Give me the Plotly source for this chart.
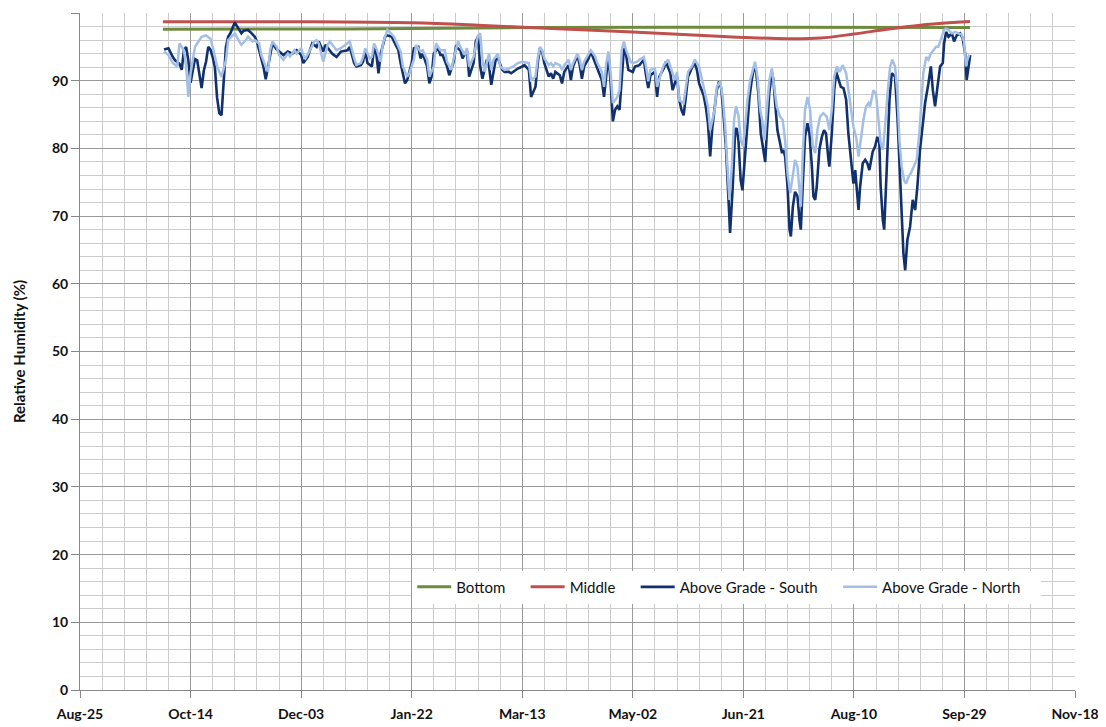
import pandas as pd
import plotly.graph_objects as go

START = pd.Timestamp("2008-08-25")

# ---- Above Grade - South (day offset from Aug-25, RH %) ----
south_day = [38, 40, 42, 43, 45, 46, 47, 48, 49, 50, 51, 52, 53, 54, 55, 56, 57, 58, 59, 60, 61, 62, 63, 64, 65, 66, 67, 68, 70, 71, 73, 74, 76, 77, 79, 80, 82, 83, 84, 86, 87, 89, 92, 94, 96, 98, 100, 101, 103, 105, 107, 108, 110, 111, 113, 114, 116, 118, 121,
             122, 124, 125, 127, 128, 129, 130, 132, 133, 134, 135, 136, 138, 139, 141, 142, 144, 145, 147, 148, 150, 151, 153, 154, 155, 157, 158, 159, 160, 162, 163, 164, 166, 167, 169, 170, 172, 173, 175, 176, 178, 179, 180, 181, 182, 184, 185, 186, 188, 189, 191, 192, 194, 195, 197, 198, 200, 201, 203, 204,
             206, 207, 208, 209, 210, 212, 213, 214, 215, 217, 218, 219, 221, 222, 223, 225, 226, 227, 228, 230, 231, 233, 234, 236, 237, 238, 239, 240, 241, 242, 243, 244, 245, 246, 247, 248, 250, 251, 253, 255, 256, 257, 258, 260, 261, 262, 264, 265, 267, 268, 270, 271, 272, 273, 274, 275, 277, 278, 279, 280, 282, 283, 284, 285, 286, 288, 289, 290,
             291.0, 292.2, 293.3, 294.0, 295.2, 296.3, 297.0, 297.8, 298.8, 299.6, 300.4, 301.6, 302.8, 303.8, 304.9, 305.8, 306.8, 307.9, 309.1, 309.9, 310.6, 311.7, 312.9, 313.6, 314.4, 315.4, 316.6, 317.5, 318.1, 318.9, 320.0, 320.9, 321.5, 322.4, 323.4, 324.5, 325.4, 326.0, 326.9, 327.9, 329.0, 329.9, 331.0, 331.7, 332.5, 333.2, 334.4, 335.5, 336.5, 337.4, 338.5, 338.9, 340.0, 341.1, 342.0, 343.0, 344.1, 345.3, 346.5, 347.5, 349.1, 349.8, 350.6, 351.3, 352.1, 352.8, 354.0, 355.1, 356.1, 357.0,
             358.5, 359.6, 360.6, 361.5, 362.1, 363.1, 363.7, 364.9, 366.1, 367.1, 368.6, 369.7, 370.9, 371.6, 372.4, 373.2, 374.2, 375.4, 376.6, 377.7, 378.7, 379.9, 381.1, 382.2, 383.7, 384.8, 385.7, 386.7, 387.8, 389.0, 390.2, 390.8, 391.7, 392.8, 394.3, 395.3, 396.5, 398.0, 399.2, 400.3, 401.0, 401.8, 402.6]
south_rh = [94.6, 94.8, 93.5, 93.0, 92.5, 91.6, 94.5, 95.0, 93.0, 89.7, 91.5, 93.2, 93.0, 91.0, 88.9, 91.5, 92.8, 95.0, 94.6, 93.5, 92.0, 87.5, 85.2, 84.9, 89.6, 95.0, 96.5, 97.0, 98.6, 98.0, 97.0, 97.4, 97.5, 97.2, 96.5, 95.8, 93.3, 92.0, 90.2, 94.0, 95.5, 94.6, 93.8, 94.3, 94.0, 94.5, 93.8, 92.6, 93.5, 95.5, 95.0, 95.8, 94.3, 95.3, 94.5, 94.0, 93.5, 94.3, 94.5,
            95.0, 92.6, 92.1, 92.3, 92.8, 94.5, 92.6, 92.1, 94.8, 94.0, 91.1, 94.0, 96.5, 96.7, 96.5, 95.8, 94.5, 92.6, 89.6, 90.1, 92.6, 94.8, 95.0, 93.3, 94.0, 92.1, 89.6, 90.6, 94.0, 94.8, 93.8, 93.8, 92.1, 90.8, 92.8, 95.0, 94.5, 93.3, 94.5, 90.6, 92.6, 95.8, 96.5, 92.1, 90.3, 93.1, 92.1, 89.4, 93.1, 93.3, 91.6, 91.3, 91.3, 91.1, 91.6, 91.8, 92.1, 92.3, 91.6, 87.6,
            89.1, 92.6, 94.8, 94.3, 92.6, 90.6, 91.1, 90.3, 91.3, 90.8, 89.6, 91.3, 92.3, 90.1, 92.1, 93.8, 92.3, 90.3, 92.1, 93.3, 94.3, 92.6, 91.6, 90.1, 87.6, 91.1, 93.8, 89.6, 84.0, 85.7, 86.2, 85.7, 90.1, 94.8, 93.8, 91.6, 91.3, 92.1, 92.3, 93.1, 90.8, 88.9, 90.8, 91.3, 87.6, 90.6, 91.8, 92.8, 91.1, 88.6, 90.6, 87.2, 85.7, 84.9, 87.6, 90.6, 92.1, 92.6, 91.6, 89.6, 87.9, 86.2, 83.7, 78.8, 83.2, 88.6, 89.9, 88.9,
            85.2, 79.8, 72.4, 67.5, 74.3, 82.7, 83.0, 81.2, 75.3, 73.8, 77.3, 83.2, 87.6, 90.1, 92.1, 91.3, 88.1, 82.2, 79.8, 78.0, 82.2, 88.1, 91.3, 90.1, 86.7, 82.7, 80.8, 79.3, 79.8, 78.8, 74.3, 68.0, 67.0, 71.4, 73.6, 72.9, 69.4, 68.0, 74.8, 81.7, 83.7, 82.2, 77.3, 72.9, 72.4, 74.3, 79.8, 81.7, 82.7, 82.2, 78.3, 77.3, 82.2, 88.6, 91.3, 90.1, 89.1, 88.9, 87.2, 82.2, 77.3, 74.8, 76.8, 74.3, 70.9, 74.3, 77.8, 78.3, 77.8, 76.8,
            79.5, 80.3, 81.7, 80.8, 74.4, 69.4, 68.0, 77.3, 87.2, 91.1, 90.6, 84.7, 74.8, 70.4, 64.5, 62.0, 66.5, 68.4, 72.4, 70.9, 74.3, 79.8, 83.2, 86.7, 89.6, 92.1, 88.6, 86.2, 89.1, 92.1, 92.6, 95.5, 97.2, 96.5, 97.0, 95.8, 96.7, 97.0, 96.3, 94.0, 90.1, 92.1, 93.8]

# ---- Above Grade - North ----
north_day = [38, 40, 42, 44, 45, 47, 48, 49, 50, 52, 53, 55, 57, 59, 60, 61, 62, 64, 66, 67, 69, 70, 72, 73, 75, 76, 78, 79, 81, 82, 84, 85, 86, 87, 89, 90, 92, 94, 95, 97, 98, 100, 101, 102, 104, 106, 107, 108, 110, 112, 113, 115, 116, 118, 121,
             122, 124, 125, 127, 128, 129, 131, 132, 133, 134, 136, 137, 139, 140, 142, 143, 145, 146, 148, 149, 151, 152, 154, 155, 157, 158, 160, 161, 163, 165, 166, 168, 169, 171, 172, 174, 175, 176, 178, 180, 181, 182, 183, 185, 186, 187, 189, 190, 192, 194, 196, 198, 200, 203, 204,
             206, 207, 208, 209, 210, 212, 213, 214, 215, 217, 218, 219, 221, 222, 223, 225, 226, 227, 228, 230, 231, 233, 234, 236, 237, 238, 239, 240, 241, 242, 243, 244, 245, 246, 247, 249, 250, 252, 253, 255, 256, 257, 258, 260, 261, 263, 264, 266, 267, 269, 270, 271, 273, 274, 275, 277, 278, 280, 281, 283, 284, 285, 287, 288,
             289.5, 290.7, 291.8, 292.8, 293.7, 294.8, 295.8, 296.7, 297.8, 298.8, 299.8, 300.8, 301.9, 303.1, 304.3, 305.3, 306.4, 307.6, 308.8, 309.6, 310.6, 311.8, 312.9, 313.9, 315.1, 316.6, 317.8, 318.9, 320.0, 321.2, 322.4, 323.4, 324.5, 325.4, 326.0, 326.9, 327.9, 329.0, 330.2, 331.4, 332.5, 333.5, 334.7, 336.2, 337.7, 338.9, 340.0, 341.1, 342.3, 343.5, 345.0, 346.5, 347.5, 348.6, 349.8, 351.0, 352.1, 353.1, 354.3, 355.5, 356.6, 357.3,
             358.8, 360.0, 361.1, 362.1, 363.1, 364.1, 365.2, 366.4, 367.4, 368.6, 369.7, 370.6, 371.6, 372.7, 373.6, 374.7, 375.7, 376.9, 378.4, 379.6, 380.7, 381.4, 382.7, 383.7, 384.8, 386.0, 387.2, 388.2, 389.7, 390.8, 391.7, 392.8, 394.3, 395.8, 397.3, 398.8, 399.8, 400.7, 401.3, 402.2]
north_rh = [94.3, 93.8, 92.6, 92.1, 95.5, 94.5, 92.1, 87.6, 91.1, 95.0, 95.5, 96.5, 96.7, 96.2, 95.0, 93.6, 92.1, 90.6, 93.0, 96.0, 96.7, 97.0, 95.8, 95.3, 96.0, 96.5, 95.8, 96.0, 95.5, 93.8, 92.1, 91.3, 94.5, 95.8, 95.0, 93.8, 93.1, 94.0, 93.6, 94.5, 94.0, 94.8, 93.8, 93.3, 94.5, 95.8, 96.0, 95.5, 92.8, 95.3, 95.8, 95.0, 94.5, 94.8, 95.5,
            95.8, 93.3, 92.3, 92.6, 93.5, 94.8, 93.3, 93.5, 95.5, 94.8, 92.8, 95.5, 97.5, 97.2, 96.5, 95.8, 94.3, 92.1, 90.6, 91.1, 93.1, 95.3, 94.3, 94.5, 93.1, 90.6, 92.1, 95.5, 94.5, 94.5, 92.8, 91.6, 93.3, 95.8, 95.0, 93.8, 94.8, 92.1, 93.5, 96.7, 97.0, 93.1, 91.3, 94.0, 91.6, 93.1, 94.0, 92.1, 91.6, 91.8, 92.1, 92.6, 92.8, 92.6, 90.1,
            90.6, 93.3, 95.0, 94.5, 93.3, 92.3, 92.6, 92.1, 92.6, 92.3, 91.6, 92.3, 93.1, 91.6, 92.6, 94.0, 93.1, 91.6, 92.8, 93.8, 94.5, 93.6, 92.6, 91.3, 89.1, 92.6, 94.3, 91.1, 86.7, 87.1, 87.6, 88.6, 94.5, 95.8, 94.5, 92.8, 92.6, 92.8, 93.1, 93.5, 92.1, 89.9, 91.6, 91.8, 89.1, 91.3, 92.3, 93.1, 92.1, 90.1, 91.3, 87.1, 86.7, 88.9, 91.3, 92.3, 93.1, 92.1, 90.6, 88.1, 86.2, 82.7, 85.7, 89.1,
            89.9, 87.6, 83.2, 77.3, 72.4, 77.3, 84.2, 86.2, 84.9, 81.2, 80.3, 83.2, 87.2, 90.1, 91.6, 92.8, 90.6, 85.7, 83.7, 81.2, 85.7, 90.1, 91.8, 89.1, 86.2, 84.7, 84.2, 81.2, 76.3, 73.4, 76.3, 78.3, 77.3, 74.4, 71.4, 79.3, 85.7, 87.6, 85.7, 80.3, 79.3, 82.7, 84.7, 85.2, 84.7, 82.7, 85.7, 90.6, 92.1, 91.3, 92.3, 91.1, 88.6, 85.7, 83.2, 81.7, 78.8, 81.2, 84.2, 86.2, 86.7, 86.2,
            88.6, 88.1, 83.7, 80.8, 79.8, 83.2, 88.1, 92.1, 93.1, 92.1, 88.1, 81.2, 77.3, 75.3, 74.8, 75.8, 76.3, 77.3, 78.3, 82.2, 87.2, 91.1, 93.5, 93.1, 94.0, 94.5, 95.0, 95.0, 96.5, 97.5, 97.7, 97.5, 97.0, 97.2, 97.0, 96.8, 95.8, 92.1, 93.1, 93.8]

# ---- Bottom and Middle ----
bottom_day = [37.5, 120, 200, 300, 402.5]
bottom_rh = [97.6, 97.65, 97.85, 97.9, 97.85]
middle_day = [37.5, 100, 150, 180, 203, 250, 293, 320, 335, 350, 365, 380, 395, 402.5]
middle_rh = [98.7, 98.7, 98.55, 98.2, 97.85, 97.2, 96.5, 96.2, 96.3, 96.9, 97.6, 98.2, 98.6, 98.75]

series_names = ["Bottom", "Middle", "Above Grade - South", "Above Grade - North"]

x_start = "2008-08-25"
x_end = "2009-11-18"


def to_dates(days):
    return START + pd.to_timedelta(pd.Series(days, dtype=float), unit="D")


FONT = "Lato, 'Open Sans', Arial, sans-serif"
PAD = "\u00a0" * 4  # extra spacing between legend entries

fig = go.Figure()
fig.add_trace(go.Scatter(x=to_dates(bottom_day), y=bottom_rh, mode="lines", name=series_names[0] + PAD,
                         line=dict(color="#6E8B3D", width=3, shape="spline")))
fig.add_trace(go.Scatter(x=to_dates(middle_day), y=middle_rh, mode="lines", name=series_names[1] + PAD,
                         line=dict(color="#C0504D", width=3, shape="spline")))
fig.add_trace(go.Scatter(x=to_dates(south_day), y=south_rh, mode="lines", name=series_names[2] + PAD,
                         line=dict(color="#10306E", width=2.6)))
fig.add_trace(go.Scatter(x=to_dates(north_day), y=north_rh, mode="lines", name=series_names[3] + PAD,
                         line=dict(color="#A3BFE6", width=2.5)))

DAY_MS = 86400000
fig.update_layout(
    width=1098, height=719,
    margin=dict(l=72, r=31, t=5, b=37),
    paper_bgcolor="white", plot_bgcolor="white",
    font=dict(family=FONT, color="#111111"),
    showlegend=True,
    legend=dict(orientation="h", x=0.65, y=0.152, xanchor="center", yanchor="middle",
                bgcolor="white", font=dict(family=FONT, size=15, color="#111111"),
                itemwidth=34, tracegroupgap=0),
    xaxis=dict(
        type="date", range=[x_start, x_end], automargin=False,
        tick0=x_start, dtick=50 * DAY_MS, tickformat="%b-%d",
        showgrid=True, gridcolor="#9A9A9A", gridwidth=1,
        minor=dict(dtick=10 * DAY_MS, tick0=x_start, showgrid=True, gridcolor="#CCCCCC", gridwidth=1),
        ticks="outside", ticklen=7, tickcolor="#888888", ticklabelstandoff=4,
        showline=True, linecolor="#888888", linewidth=1,
        tickfont=dict(family=FONT, size=14, weight="bold", color="#111111"),
        zeroline=False,
    ),
    yaxis=dict(
        range=[0, 100], dtick=10, tick0=0, automargin=False,
        showgrid=True, gridcolor="#9A9A9A", gridwidth=1,
        minor=dict(dtick=2, showgrid=True, gridcolor="#CCCCCC", gridwidth=1),
        ticks="outside", ticklen=8, tickcolor="#888888",
        showline=True, linecolor="#888888", linewidth=1,
        tickfont=dict(family=FONT, size=14, weight="bold", color="#111111"),
        title=dict(text="Relative Humidity (%)", font=dict(family=FONT, size=15, weight="bold", color="#111111"),
                   standoff=22),
        zeroline=False,
    ),
)

fig.write_html("out.html")
